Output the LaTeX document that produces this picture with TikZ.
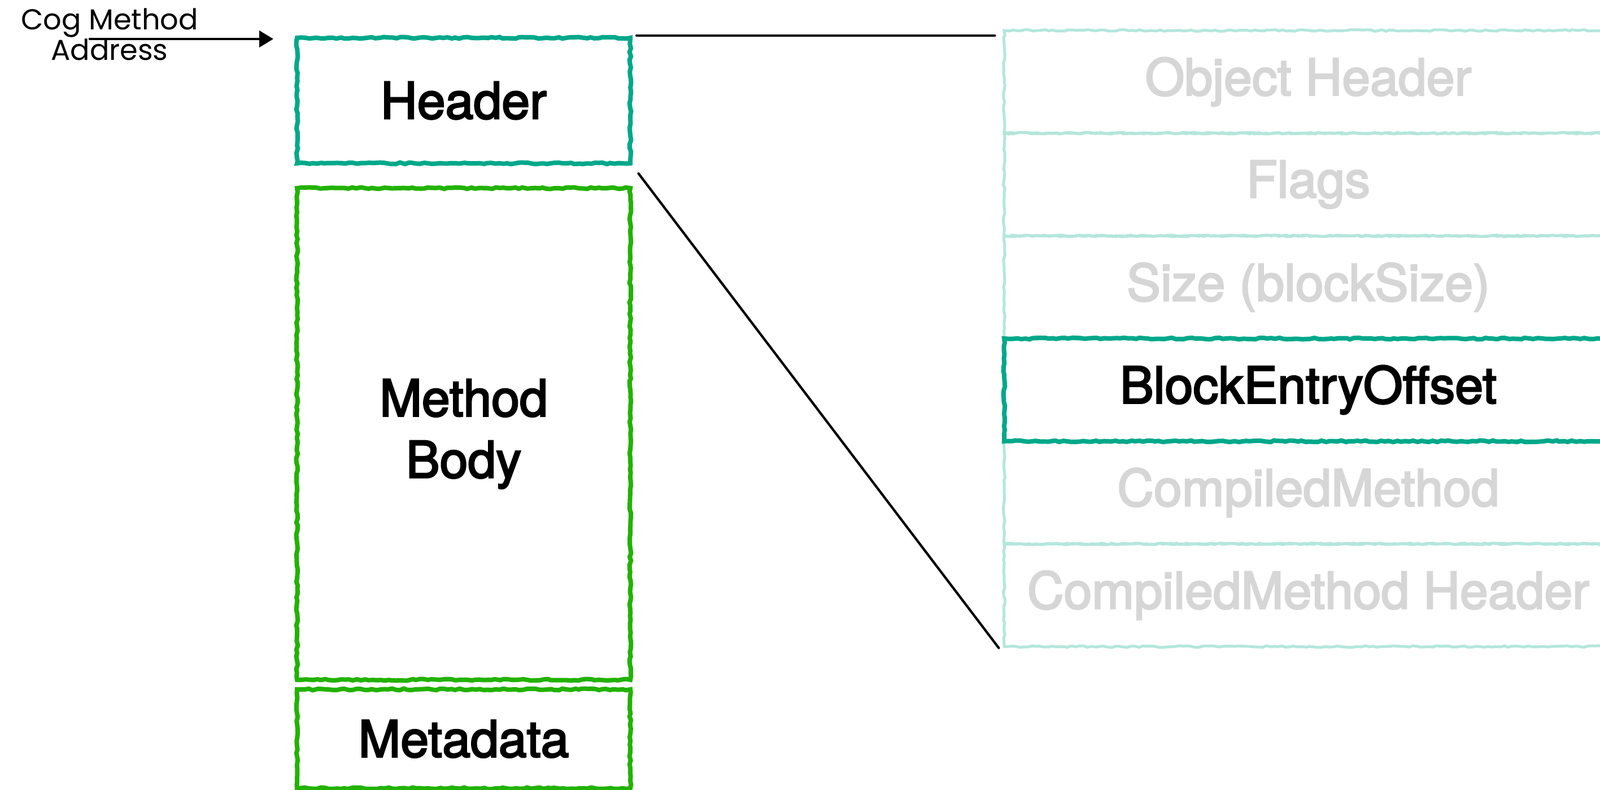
\documentclass[tikz,border=0pt]{standalone}
\usepackage{fontspec}
\setmainfont{TeX Gyre Heros}[UprightFeatures={FakeBold=3}]
\newfontfamily\gothic{Poppins}
\usetikzlibrary{arrows.meta,decorations.pathmorphing}
\definecolor{hdrteal}{RGB}{0,168,138}
\definecolor{bodygreen}{RGB}{34,178,0}
\definecolor{paleteal}{RGB}{180,230,220}
\definecolor{palegray}{RGB}{214,214,214}

\begin{document}
\begin{tikzpicture}[cap=round]
% Styles
\tikzstyle{chalk}=[decorate,decoration={random steps,segment length=2pt,amplitude=0.4pt}]
\tikzstyle{part}=[draw,chalk,line width=0.08cm,inner sep=0,align=center,font=\fontsize{25.5}{31}\selectfont]
\tikzstyle{field}=[draw=paleteal,chalk,line width=0.05cm,inner sep=0,minimum width=10.77cm,minimum height=1.817cm,text=palegray,font=\fontsize{25.5}{31}\selectfont]

\useasboundingbox (0,0) rectangle (28.33,13.98);

% the cog method
\node[part,draw=hdrteal,minimum width=5.9cm,minimum height=2.22cm] (hdr) at (8.21,12.2) {Header};
\node[part,draw=bodygreen,minimum width=5.9cm,minimum height=8.7cm] (body) at (8.21,6.3) {Method\\Body};
\node[part,draw=bodygreen,minimum width=5.9cm,minimum height=1.75cm] (meta) at (8.21,0.905) {Metadata};

% the header fields
\foreach \n/\t in {1/Object Header,2/Flags,3/Size (blockSize),5/CompiledMethod,6/CompiledMethod Header} {
\node[field] (f\n) at (23.165,13.44-\n*1.817+0.9085) {\t};
}
\node[field,draw=hdrteal,line width=0.08cm,text=black] (f4) at (23.165,13.44-4*1.817+0.9085) {BlockEntryOffset};

% zoom lines
\draw[line width=1.2pt] ([xshift=2pt]hdr.north east) -- ([xshift=-4pt]hdr.north east -| f1.west);
\draw[line width=1.2pt] ([shift={(3pt,-4pt)}]hdr.south east) -- ([xshift=-2pt]f6.south west);

% address
\node[font=\gothic\fontsize{14.5}{15.5}\selectfont,align=center] (lbl) at (1.94,13.37) {Cog Method\\Address};
\coordinate (addr) at (1.59,13.29);
\draw[line width=1.3pt,-{Triangle[length=0.25cm,width=0.29cm]}] (addr) -- ([xshift=-0.38cm]addr -| hdr.west);

\end{tikzpicture}
\end{document}
